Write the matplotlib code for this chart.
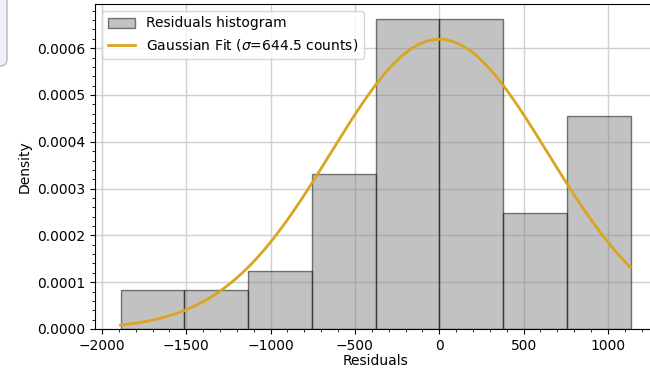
import numpy as np
import matplotlib
matplotlib.use("Agg")
import matplotlib.pyplot as plt
from matplotlib.patches import FancyBboxPatch

# histogram of residuals (counts per bin)
bin_edges = [-1890, -1512, -1134, -756, -378, 0, 378, 756, 1134]
bin_counts = [2, 2, 3, 8, 16, 16, 6, 11]

# gaussian fit
fit_mu = 0.0
fit_sigma = 644.5

fig = plt.figure(figsize=(6.5, 3.69), dpi=100)

# little rounded panel peeking in at the left edge
panel = FancyBboxPatch((-40, 303), 47, 80, boxstyle="round,pad=0,rounding_size=7",
                       transform=None, facecolor="#f3eff7", edgecolor="#b8b8b8",
                       linewidth=1.0)
fig.patches.append(panel)

ax = fig.add_axes([95 / 650, 40 / 369, 561 / 650, 325 / 369])

edges = np.array(bin_edges, dtype=float)
ax.hist(edges[:-1], bins=edges, weights=bin_counts, density=True,
        color="#868686", alpha=0.5, edgecolor="black", linewidth=1.0,
        label="Residuals histogram")

x = np.linspace(edges[0], edges[-1], 400)
pdf = np.exp(-0.5 * ((x - fit_mu) / fit_sigma) ** 2) / (fit_sigma * np.sqrt(2 * np.pi))
ax.plot(x, pdf, color="goldenrod", linewidth=2,
        label=rf"Gaussian Fit ($\sigma$={fit_sigma} counts)")

ax.set_xlabel("Residuals", labelpad=1)
ax.set_ylabel("Density")
ax.minorticks_on()
ax.grid(True, which="major", color="#d0d0d0", linewidth=1.0)
ax.set_axisbelow(True)
ax.legend(loc="upper left")

plt.savefig("out.png", dpi=100)
